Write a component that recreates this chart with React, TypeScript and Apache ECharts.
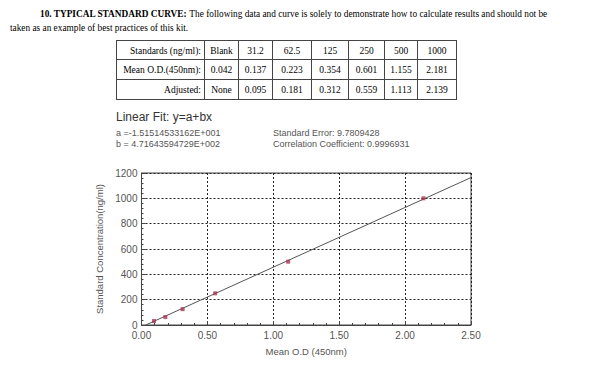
import React, { useEffect, useRef } from "react";
import * as echarts from "echarts";

const titleBold = "10. TYPICAL STANDARD CURVE:";
const titleRest = " The following data and curve is solely to demonstrate how to calculate results and should not be";
const titleLine2 = "taken as an example of best practices of this kit.";

const rowLabels = ["Standards (ng/ml):", "Mean O.D.(450nm):", "Adjusted:"];
const standards = ["Blank", "31.2", "62.5", "125", "250", "500", "1000"];
const meanOD = ["0.042", "0.137", "0.223", "0.354", "0.601", "1.155", "2.181"];
const adjustedOD = ["None", "0.095", "0.181", "0.312", "0.559", "1.113", "2.139"];

const pointOD = [0.095, 0.181, 0.312, 0.559, 1.113, 2.139];
const pointConc = [31.2, 62.5, 125, 250, 500, 1000];

const fitA = -15.1514533162;
const fitB = 471.643594729;
const fitTitle = "Linear Fit: y=a+bx";
const fitLines = ["a =-1.51514533162E+001", "b = 4.71643594729E+002"];
const statLines = ["Standard Error: 9.7809428", "Correlation Coefficient: 0.9996931"];

const xTicks = [0, 0.5, 1, 1.5, 2, 2.5];
const yTicks = [0, 200, 400, 600, 800, 1000, 1200];

const colEdges = [116, 204, 238, 272, 311, 348, 384, 417, 456];
const rowEdges = [40, 59, 79, 99];

export default function App() {
  const ref = useRef<HTMLDivElement>(null);
  useEffect(() => {
    if (!ref.current) return;
    const chart = echarts.init(ref.current, null, { renderer: "svg" });
    const serif = "'Liberation Serif', 'Times New Roman', serif";
    const sans = "'Liberation Sans', Arial, sans-serif";
    const graphics: any[] = [];
    graphics.push({
      type: "text",
      left: 40,
      top: 9,
      style: {
        rich: {
          b: { fontFamily: serif, fontSize: 9.3, fontWeight: "bold", fill: "#000" },
          n: { fontFamily: serif, fontSize: 9.3, fill: "#000" },
        },
        text: `{b|${titleBold}}{n|${titleRest}}`,
      },
    });
    graphics.push({
      type: "text",
      left: 10,
      top: 23,
      style: { text: titleLine2, fontFamily: serif, fontSize: 9.3, fill: "#000" },
    });
    const tl = colEdges[0], tr = colEdges[colEdges.length - 1];
    const tt = rowEdges[0], tb = rowEdges[rowEdges.length - 1];
    rowEdges.forEach((y) =>
      graphics.push({ type: "line", shape: { x1: tl, y1: y + 0.5, x2: tr + 1, y2: y + 0.5 }, style: { stroke: "#444", lineWidth: 1 } })
    );
    colEdges.forEach((x) =>
      graphics.push({ type: "line", shape: { x1: x + 0.5, y1: tt, x2: x + 0.5, y2: tb + 1 }, style: { stroke: "#444", lineWidth: 1 } })
    );
    const rows = [standards, meanOD, adjustedOD];
    rows.forEach((row, r) => {
      const cy = (rowEdges[r] + rowEdges[r + 1]) / 2 + 1;
      graphics.push({
        type: "text",
        x: colEdges[1] - 3,
        y: cy,
        style: { text: rowLabels[r], fontFamily: serif, fontSize: 9.5, fill: "#000", align: "right", verticalAlign: "middle" },
      });
      row.forEach((v, c) => {
        graphics.push({
          type: "text",
          x: (colEdges[c + 1] + colEdges[c + 2]) / 2 + 0.5,
          y: cy,
          style: { text: v, fontFamily: serif, fontSize: 9.5, fill: "#000", align: "center", verticalAlign: "middle" },
        });
      });
    });
    graphics.push({
      type: "text",
      left: 116,
      top: 111,
      style: { text: fitTitle, fontFamily: sans, fontSize: 12, fill: "#333" },
    });
    fitLines.forEach((t, i) =>
      graphics.push({ type: "text", left: 116, top: 128 + i * 11, style: { text: t, fontFamily: sans, fontSize: 9, fill: "#555" } })
    );
    statLines.forEach((t, i) =>
      graphics.push({ type: "text", left: 273, top: 128 + i * 11, style: { text: t, fontFamily: sans, fontSize: 9, fill: "#555" } })
    );

    const xMax = xTicks[xTicks.length - 1];
    const lineData = [
      [-fitA / fitB, 0],
      [xMax, fitA + fitB * xMax],
    ];
    const axisLabel = { color: "#555", fontSize: 10, fontFamily: sans };
    const split = { show: true, lineStyle: { color: "#222", type: [2, 2], width: 1 } };
    chart.setOption({
      animation: false,
      graphic: graphics,
      grid: { left: 141.5, top: 173, width: 329.5, height: 152, show: true, borderColor: "#444", borderWidth: 1, backgroundColor: "transparent" },
      xAxis: {
        type: "value",
        min: xTicks[0],
        max: xMax,
        interval: 0.5,
        name: "Mean O.D (450nm)",
        nameLocation: "middle",
        nameGap: 21,
        nameTextStyle: { color: "#555", fontSize: 9.5, fontFamily: sans },
        axisLine: { lineStyle: { color: "#444" } },
        axisTick: { inside: true, length: 4, lineStyle: { color: "#444" } },
        minorTick: { show: true, splitNumber: 5, length: 2, lineStyle: { color: "#444" } },
        axisLabel: { ...axisLabel, margin: 5, formatter: (v: number) => v.toFixed(2) },
        splitLine: split,
      },
      yAxis: {
        type: "value",
        min: yTicks[0],
        max: yTicks[yTicks.length - 1],
        interval: 200,
        name: "Standard Concentration(ng/ml)",
        nameLocation: "middle",
        nameGap: 31,
        nameTextStyle: { color: "#555", fontSize: 9.5, fontFamily: sans },
        axisLine: { show: true, lineStyle: { color: "#444" } },
        axisTick: { show: true, inside: true, length: 4, lineStyle: { color: "#444" } },
        minorTick: { show: true, splitNumber: 5, length: 2, lineStyle: { color: "#444" } },
        axisLabel: { ...axisLabel, margin: 4, formatter: (v: number) => String(v) },
        splitLine: split,
      },
      series: [
        {
          type: "line",
          data: lineData,
          symbol: "none",
          lineStyle: { color: "#555", width: 1 },
          z: 2,
        },
        {
          type: "scatter",
          data: pointOD.map((x, i) => [x, pointConc[i]]),
          symbol: "rect",
          symbolSize: 4,
          itemStyle: { color: "#a8324e" },
          z: 3,
        },
      ],
    });
    return () => chart.dispose();
  }, []);
  return (
    <div
      ref={ref}
      style={{ position: "absolute", left: 0, top: 0, width: 600, height: 371, background: "#fff" }}
    />
  );
}
